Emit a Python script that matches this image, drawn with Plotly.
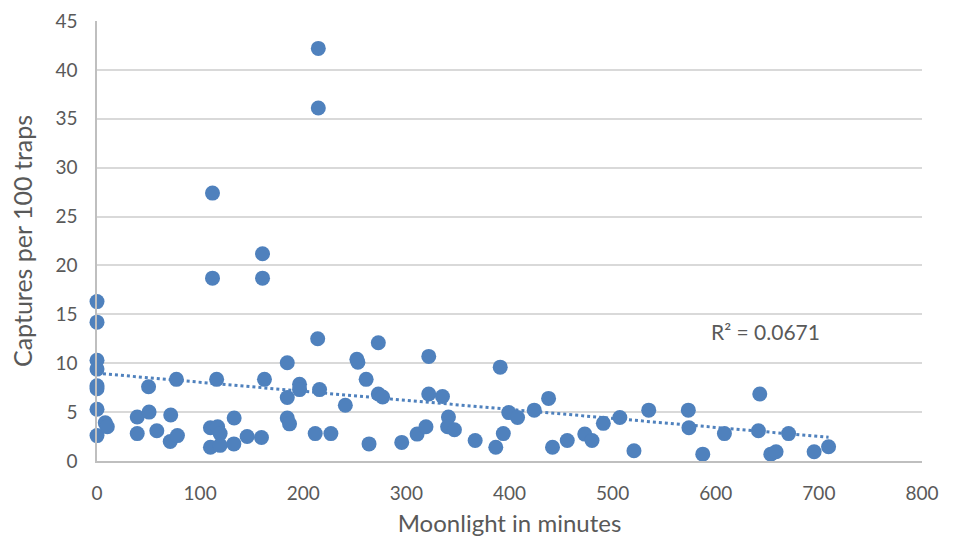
import numpy as np
import plotly.graph_objects as go

# Minutes of moonlight per night and capture rate (captures per 100 traps)
moonlight_min = [
    0, 0, 0, 0, 0, 0, 0, 0,
    8, 10, 39, 39, 50, 50.5, 58, 71.5, 71, 78, 77,
    112, 112, 110, 117, 119.4, 110, 119.4, 116,
    133, 132.7, 145.6, 159.5, 162.4, 160.5, 160.5,
    184.5, 184.5, 184.5, 186.7, 196.4, 196.4,
    214.6, 214.6, 214, 215.8, 211.6,
    226.8, 240.8, 252, 253, 261, 263.8,
    272.8, 272.8, 277, 295.5, 310.4, 319, 321.7, 321.7,
    335, 340.8, 340, 346.6, 366.7, 386.7, 391, 394, 399.3, 407.8,
    424, 437.9, 441.7, 456, 473, 480, 491, 507, 520.7, 535,
    573.4, 574, 587.4, 608.4, 642.7, 641.4, 653.4, 658.5, 670.6, 695.4, 709.4,
]
captures_per_100 = [
    16.3, 14.2, 10.3, 9.4, 7.7, 7.4, 5.3, 2.6,
    3.9, 3.5, 4.5, 2.8, 7.6, 5.0, 3.1, 4.7, 2.0, 2.6, 8.35,
    27.4, 18.7, 3.4, 3.5, 2.8, 1.4, 1.6, 8.35,
    4.4, 1.75, 2.5, 2.4, 8.35, 21.2, 18.7,
    10.05, 6.5, 4.4, 3.8, 7.85, 7.3,
    42.2, 36.1, 12.5, 7.3, 2.8,
    2.8, 5.7, 10.4, 10.1, 8.35, 1.75,
    12.1, 6.85, 6.55, 1.9, 2.75, 3.5, 10.7, 6.85,
    6.6, 4.5, 3.5, 3.2, 2.1, 1.4, 9.6, 2.8, 4.95, 4.45,
    5.2, 6.4, 1.4, 2.1, 2.75, 2.1, 3.85, 4.45, 1.05, 5.2,
    5.2, 3.4, 0.7, 2.8, 6.85, 3.1, 0.7, 0.95, 2.8, 0.95, 1.45,
]
r2_label = "R\u00b2 = 0.0671"
x_ticks = [0, 100, 200, 300, 400, 500, 600, 700, 800]
y_ticks = [0, 5, 10, 15, 20, 25, 30, 35, 40, 45]

BLUE = "#4f81bd"
TEXT = "#595959"
FONT = "Lato, 'Open Sans', sans-serif"

# Linear trendline fitted to the observations, spanning the observed range
xs = np.array(moonlight_min, dtype=float)
ys = np.array(captures_per_100, dtype=float)
slope, intercept = np.polyfit(xs, ys, 1)
trend_x = np.array([xs.min(), xs.max()])
trend_y = slope * trend_x + intercept

fig = go.Figure()
fig.add_trace(go.Scatter(
    x=trend_x, y=trend_y, mode="lines",
    line=dict(color=BLUE, width=3, dash="dot"),
    hoverinfo="skip", showlegend=False,
))
fig.add_trace(go.Scatter(
    x=moonlight_min, y=captures_per_100, mode="markers",
    marker=dict(color=BLUE, size=15, line=dict(width=0)),
    cliponaxis=False, showlegend=False,
))

fig.add_annotation(
    x=648, y=13.2, xref="x", yref="y", text=r2_label, showarrow=False,
    xanchor="center", yanchor="middle", font=dict(family=FONT, size=21, color=TEXT),
)

fig.update_layout(
    width=956, height=539,
    margin=dict(l=97, r=34, t=21, b=78, autoexpand=False),
    paper_bgcolor="white", plot_bgcolor="white",
    font=dict(family=FONT, size=19, color=TEXT),
)
fig.update_xaxes(
    range=[0, 800], tickvals=x_ticks, showgrid=False, zeroline=False,
    showline=True, linecolor="#bfbfbf", linewidth=2, automargin=False,
    ticks="", ticklabelstandoff=14,
    tickfont=dict(family=FONT, size=19, color=TEXT),
    title=dict(text="Moonlight in minutes", standoff=12,
               font=dict(family=FONT, size=24, color=TEXT)),
)
fig.update_yaxes(
    range=[0, 45], tickvals=y_ticks, showgrid=True, gridcolor="#d9d9d9", gridwidth=1.5,
    zeroline=False, showline=True, linecolor="#bfbfbf", linewidth=1.5, automargin=False,
    ticks="", ticklabelstandoff=14,
    tickfont=dict(family=FONT, size=19, color=TEXT),
    title=dict(text="Captures per 100 traps", standoff=16,
               font=dict(family=FONT, size=25, color=TEXT)),
)

fig.write_html("out.html")
